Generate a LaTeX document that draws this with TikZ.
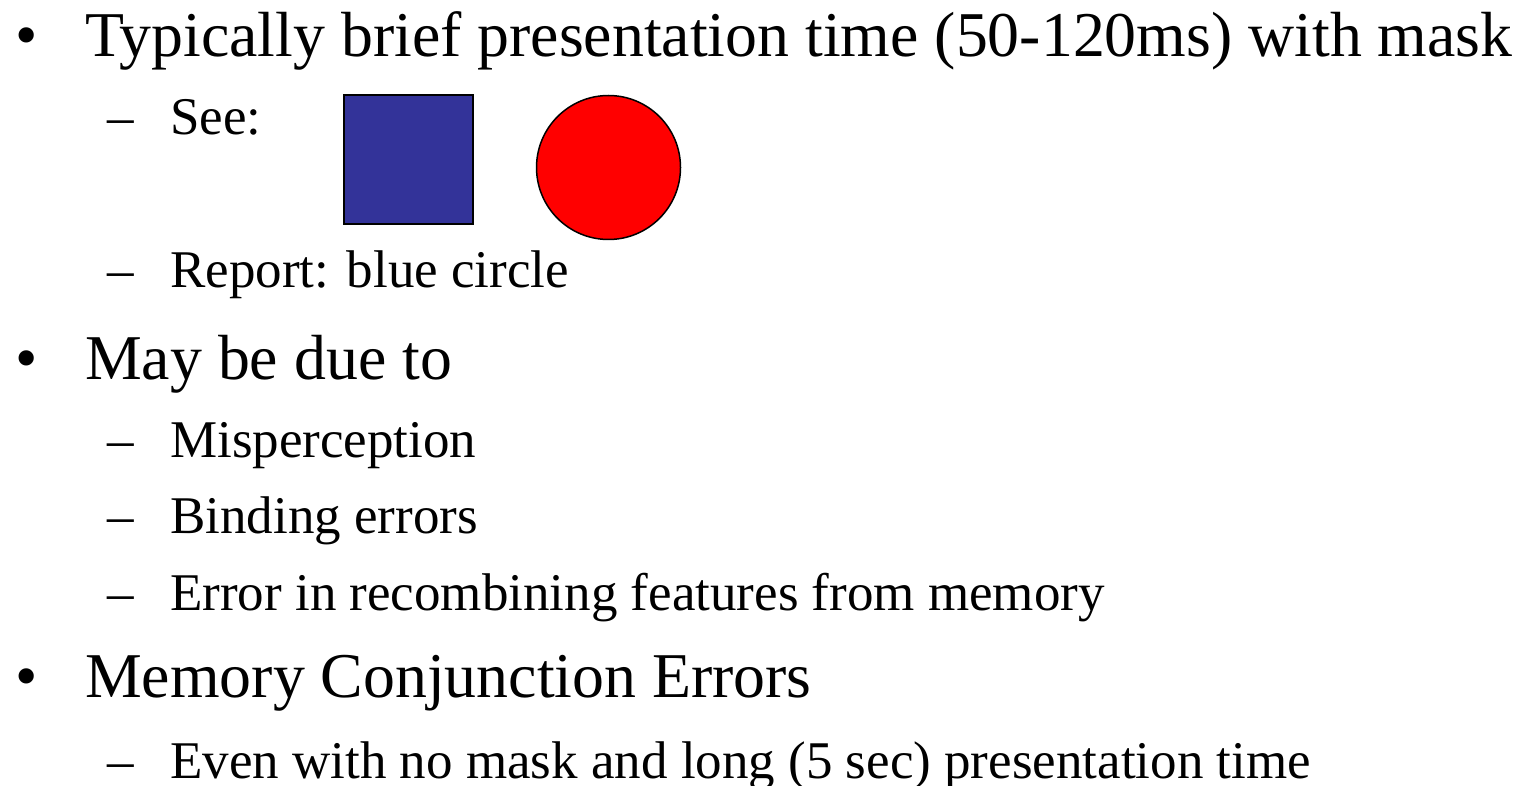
\documentclass[tikz,border=0pt]{standalone}
\usepackage{fontspec}
\setmainfont{Liberation Serif}
\definecolor{sqblue}{HTML}{333399}
\definecolor{cired}{HTML}{FF0000}
\tikzset{
  big/.style={anchor=base west, inner sep=0pt, font=\fontsize{63.8}{76}\selectfont},
  small/.style={anchor=base west, inner sep=0pt, font=\fontsize{53}{62}\selectfont},
}
\begin{document}
\begin{tikzpicture}[x=1pt,y=-1pt]
\useasboundingbox (0,0) rectangle (1526,786);
% main bullets
\node[big] (b1) at (15,57) {•};
\node[big] (t1) at (85,57) {Typically brief presentation time (50-120ms) with mask};
\node[small] (d1) at (107,135) {–};
\node[small] (s1) at (170,135) {See:};
\node[draw=black, line width=1.5pt, fill=sqblue, minimum width=129pt, minimum height=129pt, inner sep=0pt] (sq) at (408.5,159.5) {};
\node[draw=black, line width=1.5pt, fill=cired, circle, minimum size=144pt, inner sep=0pt] (ci) at (608.5,167.5) {};
\node[small] (d2) at (107,288) {–};
\node[small] (s2) at (170,288) {Report: blue circle};
\node[big] (b2) at (15,379) {•};
\node[big] (t2) at (85,379) {May be due to};
\node[small] (d3) at (107,457) {–};
\node[small] (s3) at (170,457) {Misperception};
\node[small] (d4) at (107,533) {–};
\node[small] (s4) at (170,533) {Binding errors};
\node[small] (d5) at (107,610) {–};
\node[small] (s5) at (170,610) {Error in recombining features from memory};
\node[big] (b3) at (15,697) {•};
\node[big] (t3) at (85,697) {Memory Conjunction Errors};
\node[small] (d6) at (107,778) {–};
\node[small] (s6) at (170,778) {Even with no mask and long (5 sec) presentation time};
\end{tikzpicture}
\end{document}
